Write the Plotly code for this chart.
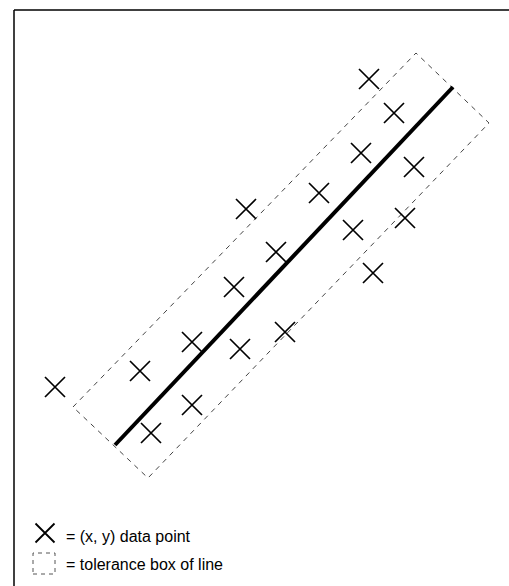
import plotly.graph_objects as go

W, H = 509, 586

# data points (x, y) in chart units (y increases upward)
point_x = [55, 140, 151, 192, 192, 240, 234, 246, 276, 285, 319, 353, 361, 369, 373, 394, 405, 414]
point_y = [199, 215, 153, 244, 181, 237, 299, 377, 334, 254, 393, 356, 433, 507, 313, 473, 368, 419]

# fitted line endpoints
line_x = [115, 453]
line_y = [141, 499]

# tolerance box corners (closed polygon)
box_x = [73, 416, 489, 148, 73]
box_y = [179, 533, 463, 108, 179]

legend_labels = ["= (x, y) data point", "= tolerance box of line"]

fig = go.Figure()

fig.add_trace(go.Scatter(
    x=box_x, y=box_y, mode="lines",
    line=dict(color="#444444", width=1, dash="5px,5px"),
    hoverinfo="skip", showlegend=False))

fig.add_trace(go.Scatter(
    x=line_x, y=line_y, mode="lines",
    line=dict(color="black", width=4),
    hoverinfo="skip", showlegend=False))

fig.add_trace(go.Scatter(
    x=point_x, y=point_y, mode="markers",
    marker=dict(symbol="x-thin", size=20, line=dict(color="black", width=1.7)),
    showlegend=False))

# legend marker
fig.add_trace(go.Scatter(
    x=[45], y=[H - 533], mode="markers",
    marker=dict(symbol="x-thin", size=19, line=dict(color="black", width=1.8)),
    hoverinfo="skip", showlegend=False))

shapes = [
    # frame
    dict(type="line", xref="x", yref="y", x0=14, y0=H - 10, x1=W, y1=H - 10,
         line=dict(color="black", width=1.5)),
    dict(type="line", xref="x", yref="y", x0=14, y0=H - 10, x1=14, y1=0,
         line=dict(color="black", width=1.5)),
    # legend dashed box
    dict(type="rect", xref="x", yref="y", x0=33, y0=H - 574, x1=55, y1=H - 553,
         line=dict(color="#555555", width=1, dash="4px,4px")),
]

annotations = [
    dict(x=64, y=H - 536, xref="x", yref="y", text=legend_labels[0], showarrow=False,
         xanchor="left", yanchor="middle", font=dict(family="Liberation Sans, Arial", size=16, color="black")),
    dict(x=64, y=H - 564, xref="x", yref="y", text=legend_labels[1], showarrow=False,
         xanchor="left", yanchor="middle", font=dict(family="Liberation Sans, Arial", size=16, color="black")),
]

fig.update_layout(
    width=W, height=H,
    margin=dict(l=0, r=0, t=0, b=0),
    paper_bgcolor="white", plot_bgcolor="white",
    xaxis=dict(range=[0, W], visible=False, fixedrange=True),
    yaxis=dict(range=[0, H], visible=False, fixedrange=True),
    shapes=shapes, annotations=annotations,
    showlegend=False,
)

fig.write_html("out.html", config={"displayModeBar": False},
               post_script="document.body.style.margin='0';document.body.style.overflow='hidden';")
